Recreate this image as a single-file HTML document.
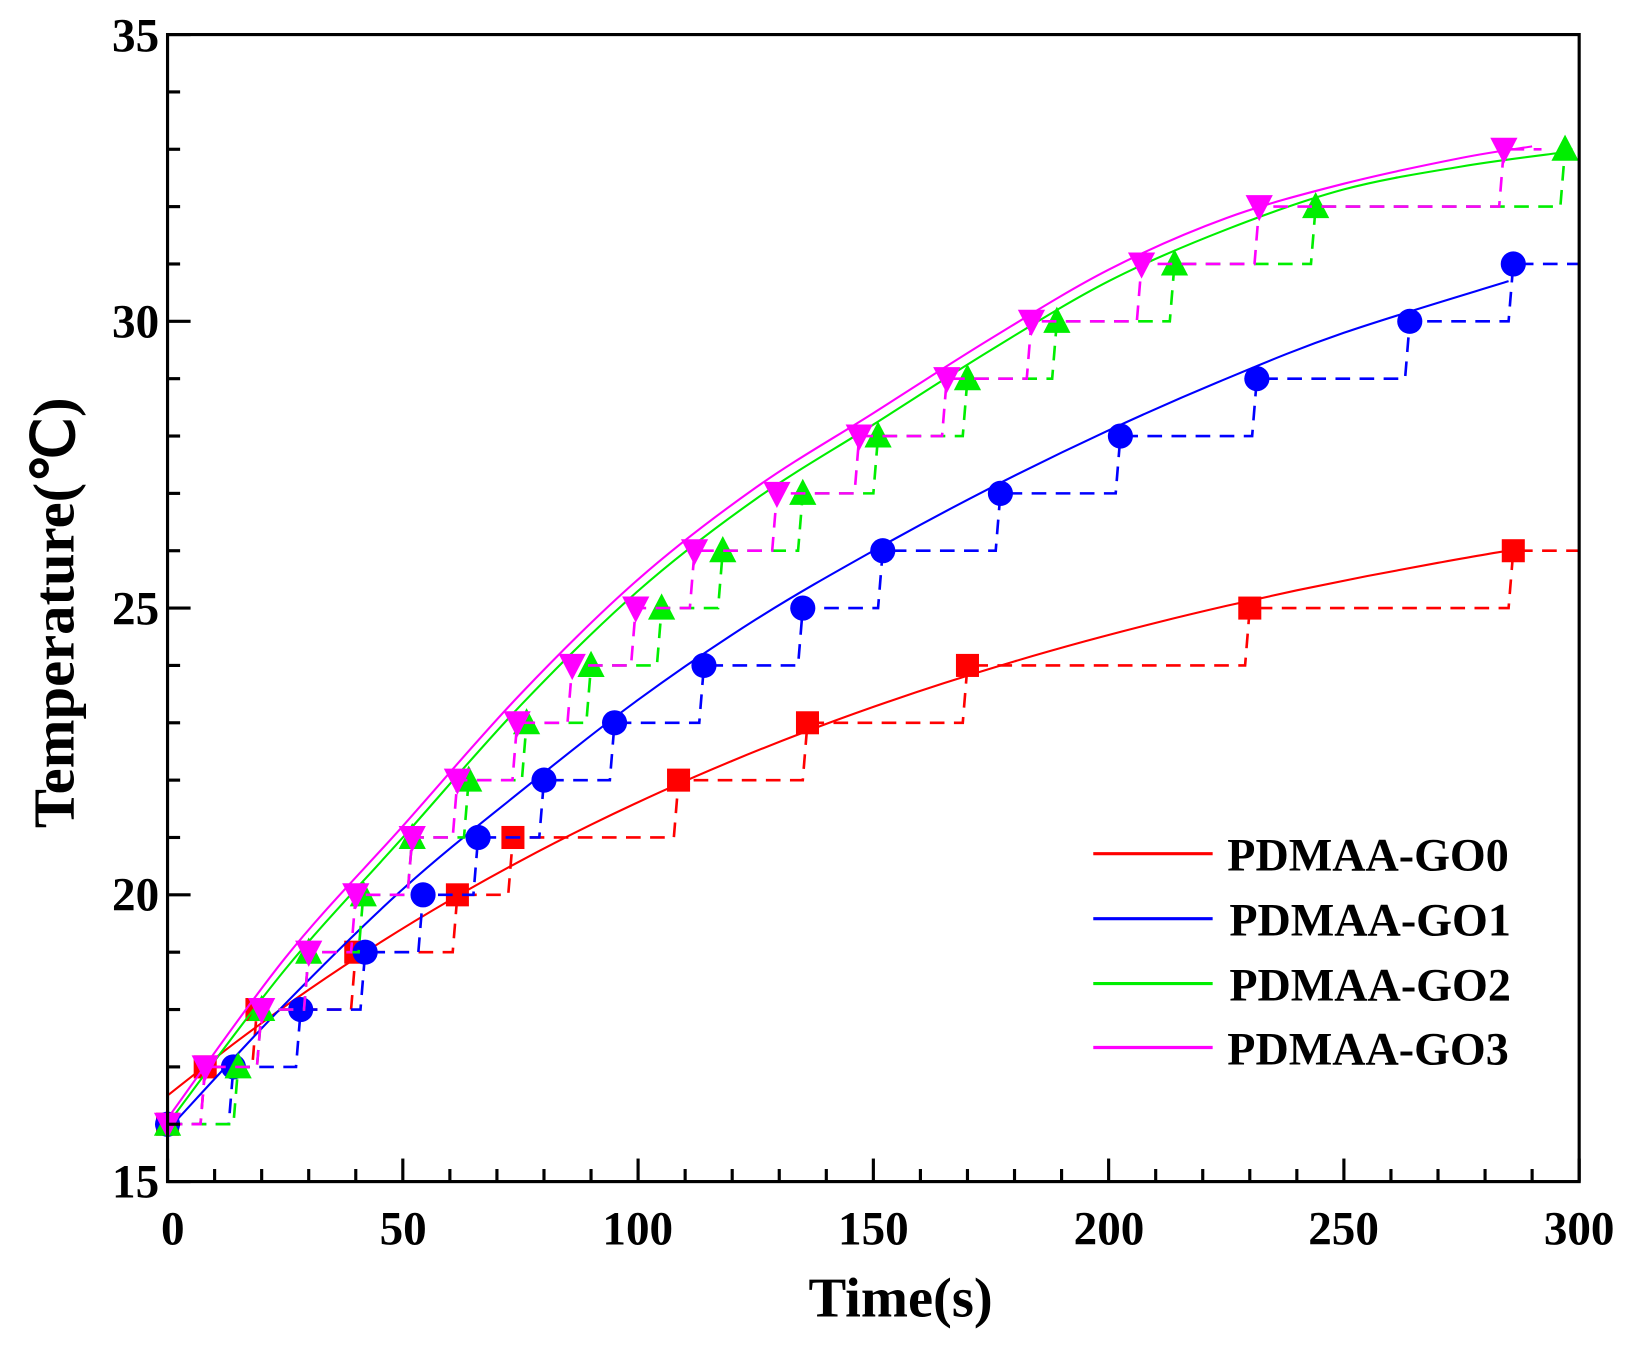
<!DOCTYPE html>
<html><head><meta charset="utf-8"><style>
html,body{margin:0;padding:0;background:#fff;}
svg{display:block;font-family:"Liberation Serif",serif;font-weight:bold;}
</style></head><body>
<svg id="s" width="1642" height="1345" viewBox="0 0 1568 1284" preserveAspectRatio="none" xmlns="http://www.w3.org/2000/svg">
<rect width="1568" height="1284" fill="#fff"/>
<g id="data"></g>
<rect x="160" y="33" width="1348" height="1095" fill="none" stroke="#000" stroke-width="3"/>
<g id="ticks" stroke="#000" stroke-width="3"></g>
<g font-size="45" text-anchor="middle">
<text x="165" y="1188">0</text><text x="385" y="1188">50</text><text x="609" y="1188">100</text>
<text x="834" y="1188">150</text><text x="1059" y="1188">200</text><text x="1283" y="1188">250</text><text x="1508" y="1188">300</text>
</g>
<g font-size="45" text-anchor="end">
<text x="152" y="1143">15</text><text x="152" y="869">20</text><text x="152" y="596">25</text>
<text x="152" y="322">30</text><text x="152" y="49">35</text>
</g>
<text x="860" y="1257" font-size="54" text-anchor="middle">Time(s)</text>
<text transform="translate(70,585) rotate(-90)" font-size="56" text-anchor="middle">Temperature(℃)</text>
<g stroke-width="3">
<line x1="1044" y1="815" x2="1158" y2="815" stroke="#ff0000"/>
<line x1="1044" y1="877" x2="1158" y2="877" stroke="#0000ff"/>
<line x1="1044" y1="939" x2="1158" y2="939" stroke="#00ee00"/>
<line x1="1044" y1="1000" x2="1158" y2="1000" stroke="#ff00ff"/>
</g>
<g font-size="44">
<text x="1172" y="831">PDMAA-GO0</text>
<text x="1174" y="893">PDMAA-GO1</text>
<text x="1174" y="955">PDMAA-GO2</text>
<text x="1172" y="1016">PDMAA-GO3</text>
</g>
</svg>
<script>
var NS="http://www.w3.org/2000/svg";
function X(t){return 160+t*1348/300;}
function Y(T){return 1128-(T-15)*1095/20;}
function el(tag,a,p){var e=document.createElementNS(NS,tag);for(var k in a)e.setAttribute(k,a[k]);p.appendChild(e);return e;}
var tk=document.getElementById('ticks');
for(var t=0;t<=300;t+=10){var L=(t%50==0)?22:12;el('line',{x1:X(t),y1:1128,x2:X(t),y2:1128-L},tk);}
for(var T=15;T<=35;T+=1){var L=(T%5==0)?22:12;el('line',{x1:160,y1:Y(T),x2:160+L,y2:Y(T)},tk);}
var g=document.getElementById('data');
function spline(pts){var d="M"+X(pts[0][0])+","+Y(pts[0][1]);
 var P=pts.map(function(p){return [X(p[0]),Y(p[1])];});
 for(var i=0;i<P.length-1;i++){var p0=P[i-1]||P[i],p1=P[i],p2=P[i+1],p3=P[i+2]||p2;
  d+=" C"+(p1[0]+(p2[0]-p0[0])/6)+","+(p1[1]+(p2[1]-p0[1])/6)+" "+(p2[0]-(p3[0]-p1[0])/6)+","+(p2[1]-(p3[1]-p1[1])/6)+" "+p2[0]+","+p2[1];}
 return d;}
function step(m,end){var d="M"+X(m[0][0])+","+Y(m[0][1]);
 for(var i=1;i<m.length;i++){d+=" L"+X(m[i][0]-1)+","+Y(m[i-1][1])+" L"+X(m[i][0])+","+Y(m[i][1]);}
 d+=" L"+X(end)+","+Y(m[m.length-1][1]);return d;}
function marker(type,x,y,c){var r=11;
 if(type=='sq')el('rect',{x:x-r,y:y-r,width:2*r,height:2*r,fill:c},g);
 else if(type=='ci')el('circle',{cx:x,cy:y,r:r+1,fill:c},g);
 else if(type=='up')el('polygon',{points:(x)+","+(y-r-3)+" "+(x-r-2)+","+(y+r)+" "+(x+r+2)+","+(y+r),fill:c},g);
 else el('polygon',{points:(x)+","+(y+r+3)+" "+(x-r-2)+","+(y-r)+" "+(x+r+2)+","+(y-r),fill:c},g);}
var red=[];for(var t=0;t<=285;t+=15)red.push([t,28.4-11.9*Math.exp(-t/178)]);red.push([285,25.95]);
var S=[
 {c:"#ff0000",m:'sq',curve:red,end:300,
  mk:[[0,16],[8,17],[19,18],[40,19],[61.6,20],[73.4,21],[108.6,22],[136,23],[170,24],[230,25],[286,26]]},
 {c:"#0000ff",m:'ci',curve:[[0,15.9],[25,18.1],[50,20.1],[75,21.8],[100,23.4],[125,24.8],[150,26.0],[175,27.1],[200,28.1],[225,29.0],[250,29.8],[285,30.7]],end:300,
  mk:[[0,16],[14,17],[28.3,18],[42,19],[54.3,20],[66,21],[80,22],[95,23],[114,24],[135,25],[152,26],[177,27],[202.5,28],[231.5,29],[264,30],[286,31]]},
 {c:"#00ee00",m:'up',curve:[[0,16],[25,18.7],[50,21],[75,23.3],[100,25.3],[125,26.9],[150,28.2],[175,29.5],[200,30.7],[225,31.6],[250,32.3],[275,32.7],[297,32.95]],end:300,
  mk:[[0,16],[15,17],[20,18],[30,19],[41.6,20],[52,21],[64,22],[76.3,23],[90,24],[105,25],[118,26],[135,27],[151,28],[170,29],[189,30],[214,31],[244,32],[297,33]]},
 {c:"#ff00ff",m:'dn',curve:[[0,16.1],[25,18.9],[50,21.2],[75,23.5],[100,25.5],[125,27.1],[150,28.4],[175,29.7],[200,30.9],[225,31.8],[250,32.4],[275,32.85],[290,33.05]],end:292,
  mk:[[0,16],[8,17],[20,18],[30,19],[40,20],[52,21],[61.6,22],[74.3,23],[86,24],[99.5,25],[112,26],[129.5,27],[147,28],[165.6,29],[183.6,30],[207,31],[232,32],[284,33]]}
];
S.forEach(function(s){
 el('path',{d:step(s.mk,s.end),fill:"none",stroke:s.c,"stroke-width":2.5,"stroke-dasharray":"14,9"},g);
 el('path',{d:spline(s.curve),fill:"none",stroke:s.c,"stroke-width":2},g);
 s.mk.forEach(function(p){marker(s.m,X(p[0]),Y(p[1]),s.c);});
});
</script>
</body></html>
